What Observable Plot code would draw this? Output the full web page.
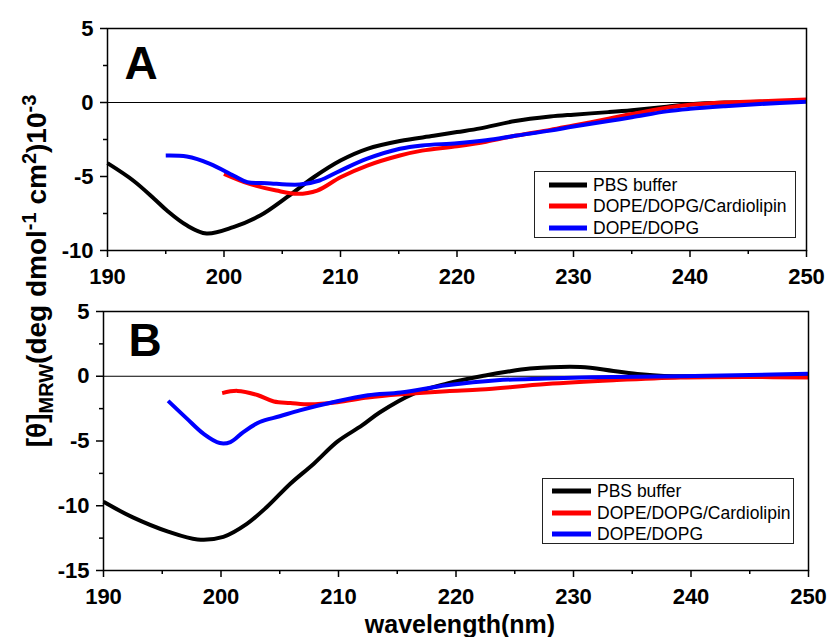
<!DOCTYPE html>
<html>
<head>
<meta charset="utf-8">
<script src="https://cdn.jsdelivr.net/npm/d3@7"></script>
<script src="https://cdn.jsdelivr.net/npm/@observablehq/plot@0.6"></script>
<style>
  body { margin: 0; background: #fff; }
  #wrap { position: relative; width: 828px; height: 637px; font-family: "Liberation Sans", Arial, sans-serif; overflow: hidden; }
  .panel { position: absolute; left: 0; }
  .ytitle { position: absolute; left: 38px; top: 271px; transform: translate(-50%, -50%) rotate(-90deg); white-space: nowrap; font-weight: bold; font-size: 28px; }
  .ytitle sub, .ytitle sup { font-size: 20px; }
  .xtitle { position: absolute; left: 460px; top: 612px; transform: translateX(-50%); white-space: nowrap; font-weight: bold; font-size: 25px; line-height: 25px; }
  .legend { position: absolute; border: 1px solid #222; background: #fff; box-sizing: border-box; }
  .legend .row { position: absolute; height: 20px; display: flex; align-items: center; font-size: 17.5px; white-space: nowrap; }
</style>
</head>
<body>
<div id="wrap"></div>
<script>
// ---------- data ----------
const seriesNames = ["PBS buffer", "DOPE/DOPG/Cardiolipin", "DOPE/DOPG"];
const seriesColors = ["#000000", "#ff0000", "#0000ff"];

// Panel A
const wlA_pbs  = [190, 192.2, 194, 195.1, 196.8, 198.5, 200.8, 203.1, 205.4, 207.7, 210, 212.3, 215.1, 218, 220, 222, 225, 228, 230, 233, 235, 238, 240, 243, 246, 250];
const valA_pbs = [-4.1, -5.27, -6.5, -7.3, -8.3, -8.85, -8.42, -7.64, -6.4, -5.05, -3.92, -3.13, -2.6, -2.25, -2.0, -1.75, -1.25, -0.95, -0.82, -0.65, -0.52, -0.28, -0.12, 0.0, 0.05, 0.1];
const wlA_cl   = [200, 202.2, 204.5, 206.3, 208, 210, 212.3, 215.1, 217, 220, 222.5, 225, 228, 230, 233, 235, 238, 240, 243, 246, 250];
const valA_cl  = [-4.82, -5.5, -5.95, -6.17, -5.95, -5.05, -4.26, -3.58, -3.25, -2.95, -2.65, -2.25, -1.85, -1.55, -1.1, -0.78, -0.35, -0.15, 0.0, 0.08, 0.2];
const wlA_pg   = [195, 196.8, 198.8, 200.8, 202, 203.7, 206.5, 208.2, 210, 212.3, 215.1, 217, 220, 222.5, 225, 228, 230, 233, 235, 238, 240, 243, 246, 250];
const valA_pg  = [-3.58, -3.65, -4.14, -4.93, -5.38, -5.45, -5.54, -5.27, -4.6, -3.8, -3.13, -2.9, -2.75, -2.55, -2.25, -1.9, -1.62, -1.25, -1.0, -0.6, -0.43, -0.25, -0.1, 0.05];

// Panel B
const wlB_pbs  = [190, 192.5, 195.5, 198, 200.2, 202.2, 203.9, 205.9, 207.9, 209.9, 212, 213.5, 216.4, 219.2, 222.6, 224.3, 226.3, 230.6, 233.4, 235.7, 237.7, 242, 246, 250];
const valB_pbs = [-9.7, -10.9, -12.0, -12.6, -12.4, -11.4, -10.1, -8.3, -6.75, -5.05, -3.8, -2.8, -1.34, -0.57, 0.08, 0.35, 0.59, 0.72, 0.41, 0.15, 0.02, 0.0, -0.03, -0.05];
const wlB_cl   = [200.1, 201.4, 203.1, 204.5, 205.9, 207.6, 209.9, 212.5, 215.3, 219.2, 222.1, 227.7, 233.4, 239.1, 245, 250];
const valB_cl  = [-1.3, -1.13, -1.45, -1.95, -2.06, -2.17, -2.0, -1.65, -1.4, -1.15, -1.03, -0.6, -0.31, -0.1, -0.06, -0.1];
const wlB_pg   = [195.5, 197.1, 198.5, 199.9, 200.8, 201.9, 203.3, 205, 206.7, 209.6, 212.5, 215.3, 219.2, 223.5, 227.7, 233.4, 239.1, 245, 250];
const valB_pg  = [-1.9, -3.27, -4.43, -5.16, -5.08, -4.31, -3.53, -3.09, -2.63, -1.99, -1.47, -1.25, -0.7, -0.31, -0.18, -0.05, 0.0, 0.1, 0.2];

// ticks
const xMajor = [190, 200, 210, 220, 230, 240, 250];
const xMinor = [195, 205, 215, 225, 235, 245];
const yMajorA = [5, 0, -5, -10];
const yMinorA = [2.5, -2.5, -7.5];
const yMajorB = [5, 0, -5, -10, -15];
const yMinorB = [2.5, -2.5, -7.5, -12.5];

function rows(wl, val, name) { return wl.map((w, i) => ({wl: w, v: val[i], series: name})); }
const dataA = [
  ...rows(wlA_pbs, valA_pbs, seriesNames[0]),
  ...rows(wlA_cl, valA_cl, seriesNames[1]),
  ...rows(wlA_pg, valA_pg, seriesNames[2])
];
const dataB = [
  ...rows(wlB_pbs, valB_pbs, seriesNames[0]),
  ...rows(wlB_cl, valB_cl, seriesNames[1]),
  ...rows(wlB_pg, valB_pg, seriesNames[2])
];

function panel(data, yDomain, yMajor, yMinor, letter, dims) {
  return Plot.plot({
    width: 828,
    height: dims.height,
    marginLeft: dims.ml, marginRight: dims.mr, marginTop: dims.mt, marginBottom: dims.mb,
    style: {fontFamily: "'Liberation Sans', Arial, sans-serif", fontWeight: "bold", fontSize: "22px", background: "transparent", color: "#000"},
    x: {domain: [190, 250]},
    y: {domain: yDomain},
    color: {domain: seriesNames, range: seriesColors},
    marks: [
      Plot.ruleY([0], {stroke: "#000", strokeWidth: 1.2}),
      Plot.line(data, {x: "wl", y: "v", z: "series", stroke: "series", strokeWidth: 4, curve: "catmull-rom", strokeLinejoin: "round", strokeLinecap: "butt"}),
      Plot.frame({stroke: "#000", strokeWidth: 1.5}),
      Plot.axisX({ticks: xMajor, tickSize: 7, tickPadding: 11, strokeWidth: 1.5, label: null, fontSize: 22, fontWeight: "bold", tickFormat: d => String(d)}),
      Plot.axisX({ticks: xMinor, tickSize: 4, strokeWidth: 1.5, text: null, label: null}),
      Plot.axisY({ticks: yMajor, tickSize: 7, tickPadding: 7, strokeWidth: 1.5, label: null, fontSize: 22, fontWeight: "bold", tickFormat: d => String(d)}),
      Plot.axisY({ticks: yMinor, tickSize: 4, strokeWidth: 1.5, text: null, label: null}),
      Plot.text([letter], {frameAnchor: "top-left", text: d => d, dx: dims.ldx, dy: dims.ldy, fontSize: 46, fontWeight: "bold", lineAnchor: "top", textAnchor: "start"})
    ]
  });
}

const wrap = document.getElementById("wrap");

const pA = panel(dataA, [-10, 5], yMajorA, yMinorA, "A", {height: 290, ml: 107, mr: 22, mt: 28, mb: 40, ldx: 17, ldy: 18});
const divA = document.createElement("div"); divA.className = "panel"; divA.style.top = "0px"; divA.appendChild(pA); wrap.appendChild(divA);

const pB = panel(dataB, [-15, 5], yMajorB, yMinorB, "B", {height: 347, ml: 103, mr: 20, mt: 21, mb: 67, ldx: 25, ldy: 12});
const divB = document.createElement("div"); divB.className = "panel"; divB.style.top = "290px"; divB.appendChild(pB); wrap.appendChild(divB);

// y title
const yt = document.createElement("div");
yt.className = "ytitle";
yt.innerHTML = "[&theta;]<sub>MRW</sub>(deg dmol<sup>-1</sup> cm<sup>2</sup>)10<sup>-3</sup>";
wrap.appendChild(yt);

// x title
const xt = document.createElement("div");
xt.className = "xtitle";
xt.textContent = "wavelength(nm)";
wrap.appendChild(xt);

// legends
function legend(box) {
  const lg = document.createElement("div");
  lg.className = "legend";
  Object.assign(lg.style, {left: box.left + "px", top: box.top + "px", width: box.w + "px", height: box.h + "px"});
  seriesNames.forEach((name, i) => {
    const r = document.createElement("div");
    r.className = "row";
    r.style.left = box.lineX + "px";
    r.style.top = (box.rows[i] - 10) + "px";
    r.innerHTML = `<svg width="${box.lineW}" height="20" style="margin-right:${box.gap}px"><line x1="0" x2="${box.lineW}" y1="10" y2="10" stroke="${seriesColors[i]}" stroke-width="5"/></svg><span>${name}</span>`;
    lg.appendChild(r);
  });
  wrap.appendChild(lg);
}
legend({left: 534, top: 171, w: 262, h: 67, lineX: 14, lineW: 38, gap: 6, rows: [13, 34, 56]});
legend({left: 542, top: 478, w: 252, h: 66, lineX: 9, lineW: 39, gap: 6, rows: [12, 34, 55]});
</script>
</body>
</html>
